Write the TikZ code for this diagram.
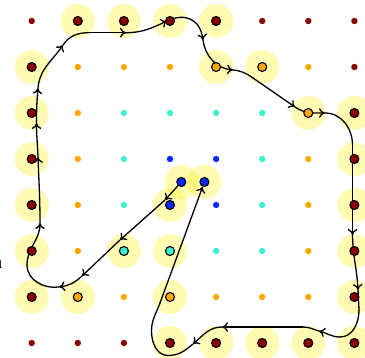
\documentclass[tikz,border=0pt]{standalone}
\usetikzlibrary{arrows.meta,backgrounds}
\definecolor{ring1}{HTML}{0A28FF}
\definecolor{ring3}{HTML}{40F0D0}
\definecolor{ring5}{HTML}{FFA800}
\definecolor{ring7}{HTML}{8B0000}
\def\hlset{,1-0,2-0,3-0,4-0,0-1,4-1,5-1,0-2,6-2,7-2,0-3,7-3,0-4,3-4,7-4,0-5,2-5,3-5,7-5,0-6,1-6,3-6,7-6,3-7,4-7,5-7,6-7,7-7,}
\makeatletter
\newcommand\ifhlcell[4]{\edef\hl@tmp{\noexpand\in@{,#1-#2,}{\hlset}}\hl@tmp\ifin@#3\else#4\fi}
\makeatother
\tikzset{
  dot/.style={circle, inner sep=0pt, minimum size=6.4pt, fill=#1},
  hl/.style={circle, inner sep=0pt, minimum size=9pt, fill=#1, draw=black, line width=1.1pt},
  halo/.style={fill=yellow, fill opacity=0.3},
  conn/.style={line width=1.3pt, black, line cap=round},
  tip/.style={-{Computer Modern Rightarrow[length=6pt,width=9.5pt]}}
}
\begin{document}
\begin{tikzpicture}[x=1pt,y=1pt]
\useasboundingbox (0,0) rectangle (365,-358);
\foreach \i in {0,...,7}{
  \foreach \j in {0,...,7}{
    \pgfmathtruncatemacro\r{max(abs(2*\i-7),abs(2*\j-7))}
    \pgfmathsetmacro\px{31.7+46.1*\i}
    \pgfmathsetmacro\py{-21-46*\j}
    \ifhlcell{\i}{\j}{%
      \node[hl=ring\r] (g-\i-\j) at (\px,\py) {};
      \begin{pgfonlayer}{background}\fill[halo] (\px,\py) circle (17);\end{pgfonlayer}%
    }{%
      \node[dot=ring\r] (g-\i-\j) at (\px,\py) {};
    }
  }
}
\node[hl=ring1] (B1) at (181.3,-182) {};
\node[hl=ring1] (B2) at (204.4,-182) {};
\begin{pgfonlayer}{background}
\fill[halo] (B1) circle (17);
\fill[halo] (B2) circle (17);
\end{pgfonlayer}

\node[font=\fontsize{12}{14}\selectfont, inner sep=0pt, anchor=base] (lab) at (0.5,-268.7) {1};

\begin{scope}[on background layer]
\coordinate (A1) at (165,-200);
\coordinate (A2) at (120,-240);
\coordinate (A3) at (82,-276);
\coordinate (A4) at (59,-287);
\coordinate (W1) at (27,-265);
\coordinate (A5) at (40,-223);
\coordinate (A6) at (38,-157);
\coordinate (A7) at (36.5,-123);
\coordinate (A8) at (38,-88);
\coordinate (A9) at (63,-45);
\coordinate (W3) at (89,-32.7);
\coordinate (A10) at (126,-32.7);
\coordinate (A11) at (167,-21);
\coordinate (A12) at (203,-40);
\coordinate (A13) at (233,-70);
\coordinate (W6) at (253,-78);
\coordinate (A14) at (295,-107);
\coordinate (A15) at (325,-113);
\coordinate (W7) at (352.5,-145);
\coordinate (A16) at (352.5,-235);
\coordinate (A17) at (358,-290);
\coordinate (W9) at (359,-310);
\coordinate (W10) at (340,-337);
\coordinate (A18) at (319,-331);
\coordinate (W11) at (303,-327);
\coordinate (A19) at (222,-327);
\coordinate (A20) at (193,-344);
\coordinate (W13) at (168,-355.5);
\coordinate (W12) at (151.5,-331);
\coordinate (W14) at (160,-303);

\draw[conn,tip] (B1) -- (A1);
\draw[conn,tip] (A1) -- (A2);
\draw[conn,tip] (A2) -- (A3);
\draw[conn,tip] (A3) to[out=223.6,in=8] (A4);
\draw[conn] (A4) to[out=188,in=-90] (W1);
\draw[conn,tip] (W1) to[out=90,in=-90] (A5);
\draw[conn,tip] (A5) to[out=90,in=-88] (A6);
\draw[conn,tip] (A6) to[out=92,in=-90] (A7);
\draw[conn,tip] (A7) to[out=90,in=-95] (A8);
\draw[conn,tip] (A8) to[out=85,in=236] (A9);
\draw[conn] (A9) to[out=56,in=180] (W3);
\draw[conn,tip] (W3) -- (A10);
\draw[conn,tip] (A10) to[out=0,in=205] (A11);
\draw[conn,tip] (A11) to[out=25,in=98,looseness=1.3] (A12);
\draw[conn,tip] (A12) to[out=-82,in=175] (A13);
\draw[conn] (A13) to[out=-5,in=145.4] (W6);
\draw[conn,tip] (W6) -- (A14);
\draw[conn,tip] (A14) to[out=-34.6,in=180] (A15);
\draw[conn] (A15) to[out=0,in=90] (W7);
\draw[conn,tip] (W7) -- (A16);
\draw[conn,tip] (A16) to[out=-89,in=93] (A17);
\draw[conn] (A17) -- (W9);
\draw[conn] (W9) to[out=-90,in=0] (W10);
\draw[conn,tip] (W10) to[out=180,in=-15] (A18);
\draw[conn] (A18) to[out=165,in=0] (W11);
\draw[conn,tip] (W11) -- (A19);
\draw[conn,tip] (A19) to[out=180,in=40] (A20);
\draw[conn] (A20) to[out=220,in=0] (W13);
\draw[conn] (W13) to[out=180,in=-90] (W12);
\draw[conn] (W12) to[out=90,in=250] (W14);
\draw[conn,tip] (W14) -- (B2);
\end{scope}
\end{tikzpicture}
\end{document}
